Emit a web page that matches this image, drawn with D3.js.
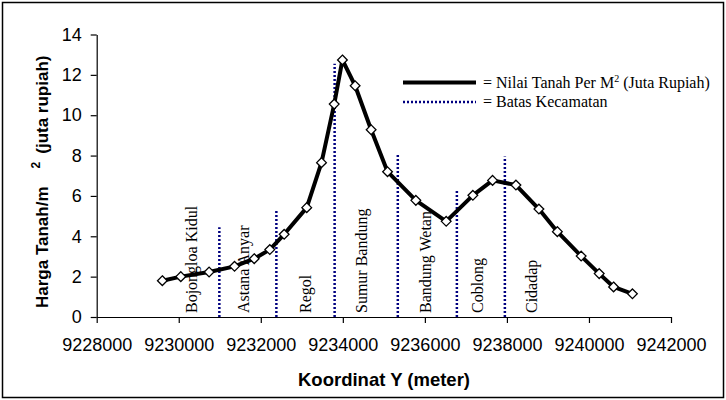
<!DOCTYPE html>
<html>
<head>
<meta charset="utf-8">
<script src="https://cdnjs.cloudflare.com/ajax/libs/d3/7.8.5/d3.min.js"></script>
<style>
  body { margin: 0; background: #fff; }
  svg { display: block; }
</style>
</head>
<body>
<svg id="chart"></svg>
<script>
// Data
var koordinatY = [9229600, 9230050, 9230740, 9231360, 9231840, 9232220, 9232570, 9233120,
                  9233480, 9233790, 9233990, 9234300, 9234690, 9235090, 9235780, 9236520,
                  9237170, 9237650, 9238220, 9238780, 9239230, 9239810, 9240250, 9240600, 9241060];
var hargaTanah = [1.80, 2.00, 2.23, 2.51, 2.89, 3.34, 4.10, 5.42,
                  7.65, 10.55, 12.74, 11.46, 9.28, 7.20, 5.78, 4.74,
                  6.03, 6.77, 6.54, 5.35, 4.23, 3.02, 2.15, 1.49, 1.15];

// district boundaries (x position and top of dotted line)
var batasX = [9230990, 9232380, 9233800, 9235340, 9236780, 9237950];
var batasTop = [4.45, 5.3, 12.55, 8.05, 6.3, 7.95];

// district names and where they sit on the x axis
var kecamatan = ["Bojongloa Kidul", "Astana Anyar", "Regol", "Sumur Bandung", "Bandung Wetan", "Coblong", "Cidadap"];
var kecamatanX = [9230316, 9231591, 9233095, 9234460, 9236020, 9237303, 9238619];

var xTicks = [9228000, 9230000, 9232000, 9234000, 9236000, 9238000, 9240000, 9242000];
var yTicks = [0, 2, 4, 6, 8, 10, 12, 14];

var width = 726, height = 400;
var sans = "Arial, 'Liberation Sans', sans-serif";
var serif = "'Times New Roman', 'Liberation Serif', serif";

var svg = d3.select("#chart")
    .attr("width", width)
    .attr("height", height);

// outer frame
svg.append("rect")
    .attr("x", 2.5).attr("y", 2.5)
    .attr("width", 721).attr("height", 395)
    .attr("fill", "#fff")
    .attr("stroke", "#000")
    .attr("stroke-width", 1.5);

var x = d3.scaleLinear().domain([9228000, 9242000]).range([96.7, 671]);
var y = d3.scaleLinear().domain([0, 14]).range([317, 34.5]);

// x axis
var xAxis = svg.append("g")
    .attr("transform", "translate(0," + y(0) + ")")
    .call(d3.axisBottom(x).tickValues(xTicks).tickFormat(d3.format("d"))
        .tickSize(6).tickSizeOuter(0).tickPadding(15));
xAxis.selectAll("text")
    .style("font-family", sans)
    .style("font-size", "18px")
    .attr("fill", "#000");

// y axis
var yAxis = svg.append("g")
    .attr("transform", "translate(" + x(9228000) + ",0)")
    .call(d3.axisLeft(y).tickValues(yTicks)
        .tickSize(6).tickSizeOuter(0).tickPadding(9));
yAxis.selectAll("text")
    .style("font-family", sans)
    .style("font-size", "18px")
    .attr("fill", "#000");

svg.selectAll(".domain, .tick line").attr("stroke", "#000").attr("stroke-width", 1.2);

// axis titles
svg.append("text")
    .attr("x", 384).attr("y", 386)
    .attr("text-anchor", "middle")
    .style("font-family", sans)
    .style("font-size", "18.5px")
    .style("font-weight", "bold")
    .text("Koordinat Y (meter)");

var yTitle = svg.append("text")
    .attr("transform", "translate(48,308) rotate(-90)")
    .attr("text-anchor", "start")
    .style("font-family", sans)
    .style("font-size", "17px")
    .style("font-weight", "bold");
yTitle.append("tspan").text("Harga Tanah/m");
yTitle.append("tspan").attr("dx", 18).attr("dy", -8).style("font-size", "12px").text("2");
yTitle.append("tspan").attr("dx", 8).attr("dy", 8).text("(juta rupiah)");

// district labels
svg.append("g")
    .selectAll("text")
    .data(kecamatan)
    .enter().append("text")
    .attr("transform", function(d, i) {
        return "translate(" + (x(kecamatanX[i]) + 5) + ",313) rotate(-90)";
    })
    .style("font-family", serif)
    .style("font-size", "16px")
    .text(function(d) { return d; });

// district boundaries
svg.append("g")
    .selectAll("line")
    .data(batasX)
    .enter().append("line")
    .attr("x1", function(d) { return x(d); })
    .attr("x2", function(d) { return x(d); })
    .attr("y1", y(0))
    .attr("y2", function(d, i) { return y(batasTop[i]); })
    .attr("stroke", "#000080")
    .attr("stroke-width", 2.5)
    .attr("stroke-dasharray", "2,2");

// main line
var line = d3.line()
    .x(function(d, i) { return x(koordinatY[i]); })
    .y(function(d) { return y(d); });

svg.append("path")
    .datum(hargaTanah)
    .attr("d", line)
    .attr("fill", "none")
    .attr("stroke", "#000")
    .attr("stroke-width", 4)
    .attr("stroke-linejoin", "round");

// diamond markers
var diamond = d3.symbol().type(d3.symbolDiamond2).size(60);
svg.append("g")
    .selectAll("path")
    .data(hargaTanah)
    .enter().append("path")
    .attr("d", diamond)
    .attr("transform", function(d, i) { return "translate(" + x(koordinatY[i]) + "," + y(d) + ")"; })
    .attr("fill", "#fff")
    .attr("stroke", "#000")
    .attr("stroke-width", 1.3);

// legend
var legend = svg.append("g");
legend.append("line")
    .attr("x1", 403).attr("x2", 476)
    .attr("y1", 82.5).attr("y2", 82.5)
    .attr("stroke", "#000").attr("stroke-width", 4);
legend.append("line")
    .attr("x1", 403).attr("x2", 476)
    .attr("y1", 102).attr("y2", 102)
    .attr("stroke", "#000080").attr("stroke-width", 2.5)
    .attr("stroke-dasharray", "2,2");

var lt1 = legend.append("text")
    .attr("x", 483).attr("y", 87.5)
    .style("font-family", serif)
    .style("font-size", "16px");
lt1.append("tspan").text("= Nilai Tanah Per M");
lt1.append("tspan").attr("dy", -6).style("font-size", "10px").text("2");
lt1.append("tspan").attr("dy", 6).text(" (Juta Rupiah)");

legend.append("text")
    .attr("x", 483).attr("y", 107)
    .style("font-family", serif)
    .style("font-size", "16px")
    .text("= Batas Kecamatan");
</script>
</body>
</html>
